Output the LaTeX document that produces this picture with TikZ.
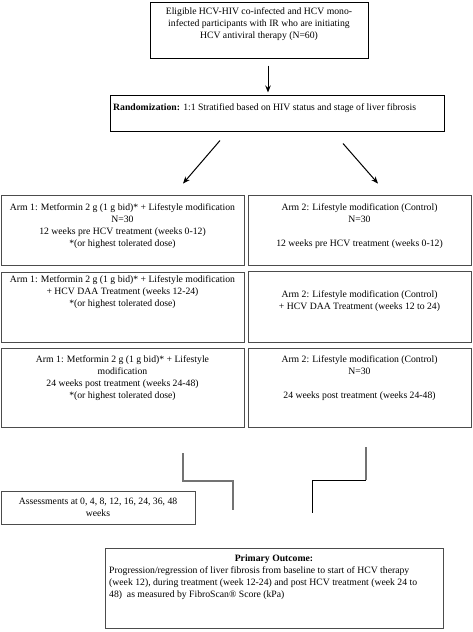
\documentclass[tikz,border=0pt]{standalone}
\usepackage{fontspec}
\setmainfont{Liberation Serif}
\usetikzlibrary{arrows.meta}
\begin{document}
\begin{tikzpicture}[x=1pt,y=-1pt,
  box/.style={draw=black!70, line width=0.9pt, inner sep=0pt},
  tbox/.style={draw=black, line width=1pt, inner sep=0pt},
  txt/.style={inner sep=0pt, align=center, font=\fontsize{9.7}{12}\selectfont},
  arr/.style={-{Stealth[length=7pt,width=5.5pt]}, line width=1pt, black},
  conn/.style={line width=1.2pt, black!55},
  connb/.style={line width=1pt, black}]
\useasboundingbox (0,0) rectangle (473,632);
\fill[white] (0,0) rectangle (473,632);

% top box
\node[tbox, minimum width=218pt, minimum height=56pt] (top) at (259,30) {};
\node[txt] (topt) at (259,24) {Eligible HCV-HIV co-infected and HCV mono-\\infected participants with IR who are initiating\\HCV antiviral therapy (N=60)};

% randomization
\node[tbox, minimum width=334pt, minimum height=36pt] (rand) at (277,113) {};
\node[txt, anchor=west] (randt) at (113,108) {\textbf{Randomization:} 1:1 Stratified based on HIV status and stage of liver fibrosis};

% row 1
\node[box, minimum width=243pt, minimum height=70pt] (a1pre) at (122.5,230) {};
\node[txt] (a1pret) at (122.5,226) {Arm 1: Metformin 2 g (1 g bid)* + Lifestyle modification\\N=30\\12 weeks pre HCV treatment (weeks 0-12)\\*(or highest tolerated dose)};
\node[box, minimum width=223pt, minimum height=70pt] (a2pre) at (359.5,230) {};
\node[txt] (a2pret) at (359.5,226) {Arm 2: Lifestyle modification (Control)\\N=30\\[12pt]12 weeks pre HCV treatment (weeks 0-12)};

% row 2
\node[box, minimum width=243pt, minimum height=70pt] (a1daa) at (122.5,307) {};
\node[txt] (a1daat) at (122.5,292) {Arm 1: Metformin 2 g (1 g bid)* + Lifestyle modification\\+ HCV DAA Treatment (weeks 12-24)\\*(or highest tolerated dose)};
\node[box, minimum width=223pt, minimum height=71pt] (a2daa) at (359.5,306.5) {};
\node[txt] (a2daat) at (359.5,301) {Arm 2: Lifestyle modification (Control)\\+ HCV DAA Treatment (weeks 12 to 24)};

% row 3
\node[box, minimum width=243pt, minimum height=79pt] (a1post) at (122.5,387.5) {};
\node[txt] (a1postt) at (122.5,378) {Arm 1: Metformin 2 g (1 g bid)* + Lifestyle\\modification\\24 weeks post treatment (weeks 24-48)\\*(or highest tolerated dose)};
\node[box, minimum width=223pt, minimum height=79pt] (a2post) at (359.5,387.5) {};
\node[txt] (a2postt) at (359.5,378) {Arm 2: Lifestyle modification (Control)\\N=30\\[12pt]24 weeks post treatment (weeks 24-48)};

% assessments
\node[box, minimum width=194pt, minimum height=33pt] (assess) at (98,507.5) {};
\node[txt, font=\fontsize{9.7}{11.5}\selectfont] (assesst) at (98,507.5) {Assessments at 0, 4, 8, 12, 16, 24, 36, 48\\weeks};

% primary outcome
\node[box, minimum width=338pt, minimum height=80pt] (outcome) at (274,588) {};
\node[txt] (outh) at (274,559) {\textbf{Primary Outcome:}};
\node[txt, align=left, anchor=west] (outb) at (109,583) {Progression/regression of liver fibrosis from baseline to start of HCV therapy\\(week 12), during treatment (week 12-24) and post HCV treatment (week 24 to\\48)~ as measured by FibroScan® Score (kPa)};

% arrows
\draw[arr] ([shift={(9,7)}]top.south) -- ([shift={(-9,-2)}]rand.north);
\draw[arr] ([shift={(-57,9)}]rand.south) -- ([shift={(60.5,-11)}]a1pre.north);
\draw[arr] ([shift={(66,12)}]rand.south) -- ([shift={(18.5,-11)}]a2pre.north);

% elbow connectors
\coordinate (l1) at (183,453);
\coordinate (l2) at (183,481);
\coordinate (l3) at (233,481);
\coordinate (l4) at (233,510);
\draw[conn] (l1) -- (l2) -- (l3) -- (l4);
\coordinate (r1) at (366,447);
\coordinate (r2) at (366,480);
\coordinate (r3) at (312,480);
\coordinate (r4) at (312,513);
\draw[conn] (r1) -- (r2);
\draw[connb] (r2) -- (r3) -- (r4);
\end{tikzpicture}
\end{document}
